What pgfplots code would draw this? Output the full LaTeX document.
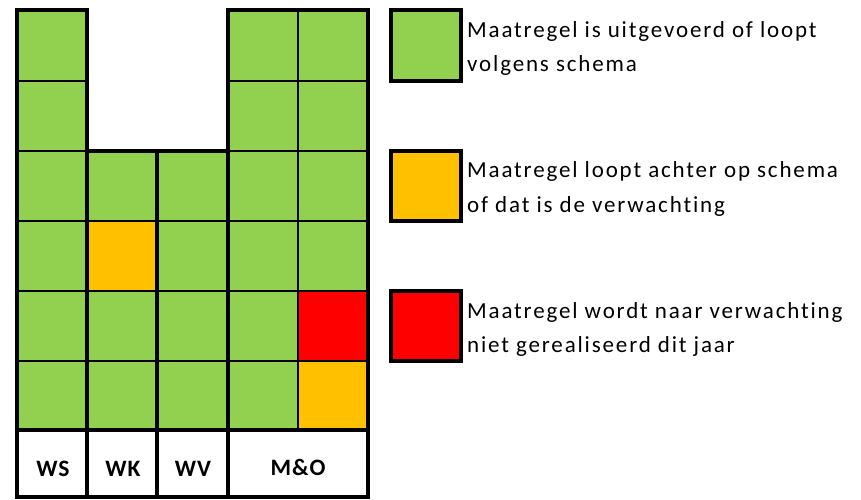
\documentclass[border=0pt]{standalone}
\usepackage{pgfplots}
\pgfplotsset{compat=1.18}
\usepackage{fontspec}
\setmainfont{Carlito}[Ligatures=NoCommon]
\newfontfamily\legfont[LetterSpace=8,Ligatures=NoCommon]{Carlito}
\newfontfamily\labfont[LetterSpace=4,Ligatures=NoCommon]{Carlito}
\definecolor{cgreen}{HTML}{92D050}
\definecolor{corange}{HTML}{FFC000}
\definecolor{cred}{HTML}{FF0000}
\begin{document}
\begin{tikzpicture}
\begin{axis}[
  width=861pt, height=499pt, scale only axis,
  xmin=0, xmax=861, ymin=0, ymax=499, y dir=reverse,
  hide axis, clip=false,
  cell/.style={draw=black, line width=2pt},
  frame/.style={draw=black, line width=4pt, line join=miter, fill=none},
]
% ---- cells: column WS (x 17-87)
\addplot[cell, fill=cgreen] coordinates {(17,10) (87,10) (87,81) (17,81)} -- cycle;
\addplot[cell, fill=cgreen] coordinates {(17,81) (87,81) (87,151) (17,151)} -- cycle;
\addplot[cell, fill=cgreen] coordinates {(17,151) (87,151) (87,221) (17,221)} -- cycle;
\addplot[cell, fill=cgreen] coordinates {(17,221) (87,221) (87,291) (17,291)} -- cycle;
\addplot[cell, fill=cgreen] coordinates {(17,291) (87,291) (87,361) (17,361)} -- cycle;
\addplot[cell, fill=cgreen] coordinates {(17,361) (87,361) (87,430) (17,430)} -- cycle;
% ---- column WK (x 87-157)
\addplot[cell, fill=cgreen] coordinates {(87,151) (157,151) (157,221) (87,221)} -- cycle;
\addplot[cell, fill=corange] coordinates {(87,221) (157,221) (157,291) (87,291)} -- cycle;
\addplot[cell, fill=cgreen] coordinates {(87,291) (157,291) (157,361) (87,361)} -- cycle;
\addplot[cell, fill=cgreen] coordinates {(87,361) (157,361) (157,430) (87,430)} -- cycle;
% ---- column WV (x 157-228)
\addplot[cell, fill=cgreen] coordinates {(157,151) (228,151) (228,221) (157,221)} -- cycle;
\addplot[cell, fill=cgreen] coordinates {(157,221) (228,221) (228,291) (157,291)} -- cycle;
\addplot[cell, fill=cgreen] coordinates {(157,291) (228,291) (228,361) (157,361)} -- cycle;
\addplot[cell, fill=cgreen] coordinates {(157,361) (228,361) (228,430) (157,430)} -- cycle;
% ---- column M&O a (x 228-298)
\addplot[cell, fill=cgreen] coordinates {(228,10) (298,10) (298,81) (228,81)} -- cycle;
\addplot[cell, fill=cgreen] coordinates {(228,81) (298,81) (298,151) (228,151)} -- cycle;
\addplot[cell, fill=cgreen] coordinates {(228,151) (298,151) (298,221) (228,221)} -- cycle;
\addplot[cell, fill=cgreen] coordinates {(228,221) (298,221) (298,291) (228,291)} -- cycle;
\addplot[cell, fill=cgreen] coordinates {(228,291) (298,291) (298,361) (228,361)} -- cycle;
\addplot[cell, fill=cgreen] coordinates {(228,361) (298,361) (298,430) (228,430)} -- cycle;
% ---- column M&O b (x 298-368)
\addplot[cell, fill=cgreen] coordinates {(298,10) (368,10) (368,81) (298,81)} -- cycle;
\addplot[cell, fill=cgreen] coordinates {(298,81) (368,81) (368,151) (298,151)} -- cycle;
\addplot[cell, fill=cgreen] coordinates {(298,151) (368,151) (368,221) (298,221)} -- cycle;
\addplot[cell, fill=cgreen] coordinates {(298,221) (368,221) (368,291) (298,291)} -- cycle;
\addplot[cell, fill=cred] coordinates {(298,291) (368,291) (368,361) (298,361)} -- cycle;
\addplot[cell, fill=corange] coordinates {(298,361) (368,361) (368,430) (298,430)} -- cycle;
% ---- thick group frames
\addplot[frame] coordinates {(17,10) (87,10) (87,430) (17,430)} -- cycle;
\addplot[frame] coordinates {(87,151) (157,151) (157,430) (87,430)} -- cycle;
\addplot[frame] coordinates {(157,151) (228,151) (228,430) (157,430)} -- cycle;
\addplot[frame] coordinates {(228,10) (368,10) (368,430) (228,430)} -- cycle;
% ---- label row
\addplot[frame] coordinates {(17,430) (87,430) (87,497) (17,497)} -- cycle;
\addplot[frame] coordinates {(87,430) (157,430) (157,497) (87,497)} -- cycle;
\addplot[frame] coordinates {(157,430) (228,430) (228,497) (157,497)} -- cycle;
\addplot[frame] coordinates {(228,430) (368,430) (368,497) (228,497)} -- cycle;
\tikzset{lb/.style={anchor=base, inner sep=0pt, font=\labfont\fontsize{23.5}{28}\selectfont\bfseries}}
\node[lb] at (axis cs:53,476) {WS};
\node[lb] at (axis cs:123,476) {WK};
\node[lb] at (axis cs:193,476) {WV};
\node[lb] at (axis cs:298,475) {M\&O};
% ---- legend boxes
\addplot[frame, fill=cgreen] coordinates {(391,10) (461,10) (461,81) (391,81)} -- cycle;
\addplot[frame, fill=corange] coordinates {(391,151) (461,151) (461,221) (391,221)} -- cycle;
\addplot[frame, fill=cred] coordinates {(391,291) (461,291) (461,361) (391,361)} -- cycle;
% ---- legend texts
\tikzset{lt/.style={anchor=base west, inner sep=0pt, font=\legfont\fontsize{23}{28}\selectfont}}
\node[lt] at (axis cs:467,37.7) {Maatregel is uitgevoerd of loopt};
\node[lt] at (axis cs:467,71.7) {volgens schema};
\node[lt] at (axis cs:467,177.7) {Maatregel loopt achter op schema};
\node[lt] at (axis cs:467,212) {of dat is de verwachting};
\node[lt] at (axis cs:467,318.3) {Maatregel wordt naar verwachting};
\node[lt] at (axis cs:467,352.3) {niet gerealiseerd dit jaar};
\coordinate (bbl) at (axis cs:0,499);
\coordinate (btr) at (axis cs:861,0);
\end{axis}
\pgfresetboundingbox
\path[use as bounding box] (bbl) rectangle (btr);
\end{tikzpicture}
\end{document}
